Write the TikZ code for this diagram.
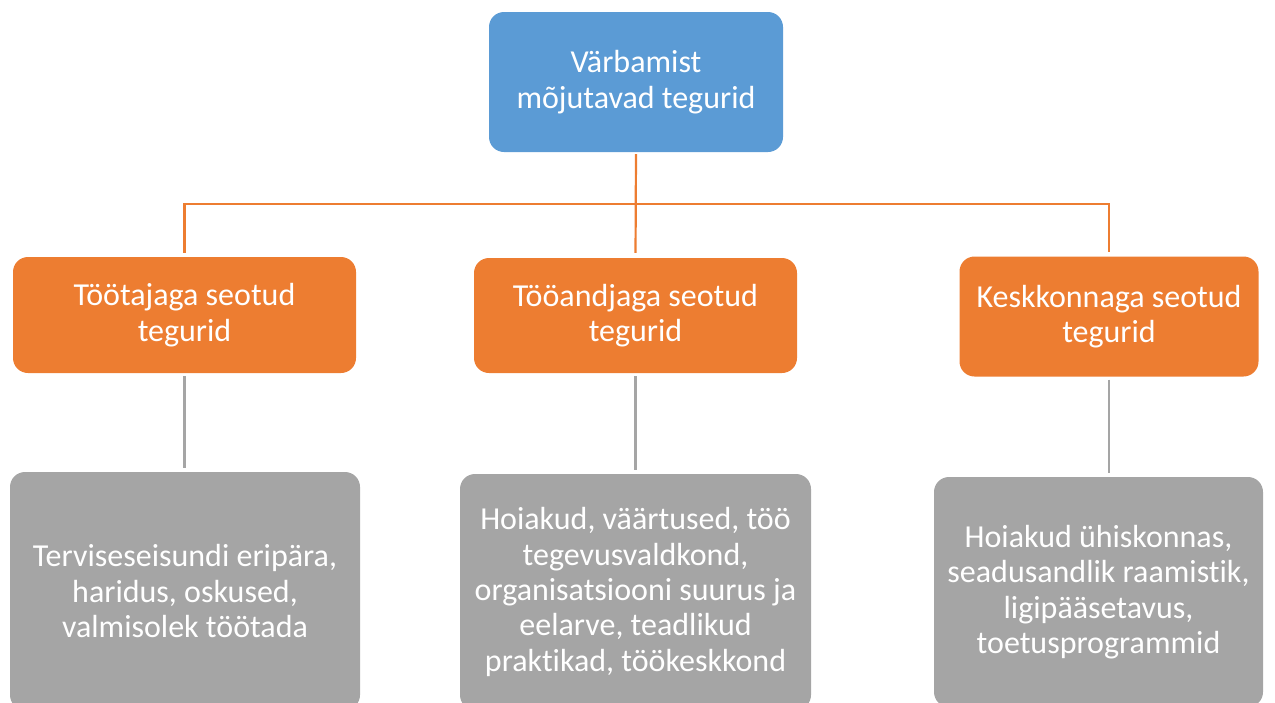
\documentclass[tikz,border=0pt]{standalone}
\usepackage{fontspec}
\setmainfont{Carlito}[RawFeature={-liga;-clig;-calt}]
\definecolor{cblue}{HTML}{5B9BD5}
\definecolor{corange}{HTML}{ED7D31}
\definecolor{cgray}{HTML}{A5A5A5}
\begin{document}
\begin{tikzpicture}[x=1pt,y=-1pt,
  box/.style={rounded corners=15pt, text=white, align=center, inner sep=0pt,
    font=\fontsize{32}{35.3}\selectfont},
  oline/.style={draw=corange, line width=2.2pt},
  gline/.style={draw=cgray, line width=2.2pt}]
\useasboundingbox (0,0) rectangle (1275,702);
\clip (0,0) rectangle (1275,702);
\node[box, fill=cblue, minimum width=294pt, minimum height=140pt] (top) at (636,82) {Värbamist\\mõjutavad tegurid};
\node[box, fill=corange, minimum width=343pt, minimum height=116pt] (o1) at (184.5,315) {Töötajaga seotud\\tegurid};
\node[box, fill=corange, minimum width=323pt, minimum height=115pt] (o2) at (635.5,315.5) {Tööandjaga seotud\\tegurid};
\node[box, fill=corange, minimum width=299pt, minimum height=120pt] (o3) at (1109,316.5) {Keskkonnaga seotud\\tegurid};
\node[box, fill=cgray, minimum width=350pt, minimum height=238pt] (g1) at (185,591) {Terviseseisundi eripära,\\haridus, oskused,\\valmisolek töötada};
\node[box, fill=cgray, minimum width=351pt, minimum height=236pt] (g2) at (635.5,592) {Hoiakud, väärtused, töö\\tegevusvaldkond,\\organisatsiooni suurus ja\\eelarve, teadlikud\\praktikad, töökeskkond};
\node[box, fill=cgray, minimum width=329pt, minimum height=230pt] (g3) at (1098.5,592) {Hoiakud ühiskonnas,\\seadusandlik raamistik,\\ligipääsetavus,\\toetusprogrammid};
\coordinate (bus) at (636,204);
\draw[oline, shorten <=2pt, shorten >=5pt] (top.south) -- (o2.north);
\draw[oline, shorten <=4pt, shorten >=4pt] (o1.north) |- (bus) -| (o3.north);
\draw[gline, shorten <=3pt, shorten >=4pt] (o1.south) -- (o1.south |- g1.north);
\draw[gline, shorten <=3pt, shorten >=4pt] (o2.south) -- (o2.south |- g2.north);
\draw[gline, shorten <=3pt, shorten >=4pt] (o3.south) -- (o3.south |- g3.north);
\end{tikzpicture}
\end{document}
